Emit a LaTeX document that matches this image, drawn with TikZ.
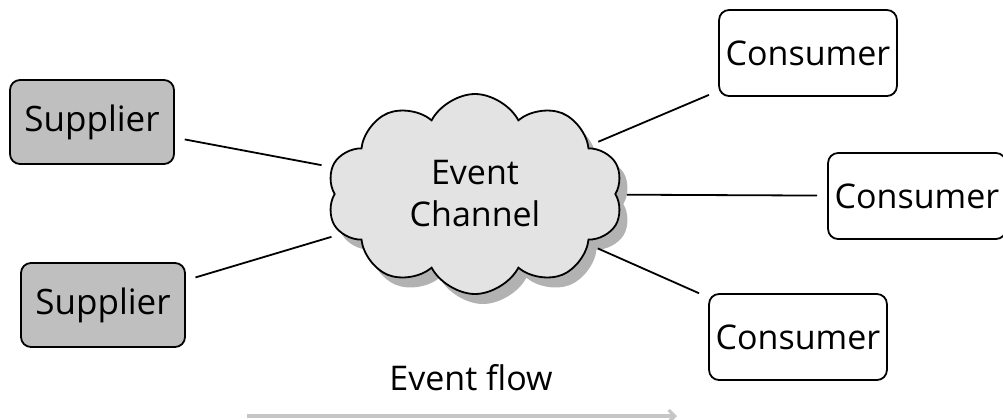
\documentclass[tikz,border=0pt]{standalone}
\usepackage{fontspec}
\setmainfont{Open Sans}
\usetikzlibrary{shapes.symbols,shadows,arrows.meta}
\begin{document}
\begin{tikzpicture}[x=0.5pt,y=-0.5pt,
  supplierbox/.style={draw, line width=0.9pt, rounded corners=5pt, fill=gray!50,
    minimum width=82pt, minimum height=42pt, font=\fontsize{17.5}{20}\selectfont},
  consumerbox/.style={draw, line width=0.9pt, rounded corners=5pt, fill=white,
    minimum width=86pt, minimum height=43pt, font=\fontsize{17}{20}\selectfont},
  link/.style={line width=0.9pt, shorten <=5pt, shorten >=5pt}]
\useasboundingbox (0,0) rectangle (1003,419);
\node[supplierbox] (s1) at (92,122) {Supplier};
\node[supplierbox] (s2) at (103,305) {Supplier};
\node[draw, line width=0.9pt, cloud, cloud puffs=10, cloud puff arc=125, aspect=1.5,
  fill=gray!22, minimum width=148pt, minimum height=100pt, align=center,
  font=\fontsize{17}{21}\selectfont,
  drop shadow={shadow xshift=4pt, shadow yshift=-5pt, fill=gray!60, opacity=1}]
  (ch) at (475,194) {Event\\Channel};
\node[consumerbox] (c1) at (808,53) {Consumer};
\node[consumerbox] (c2) at (917,196) {Consumer};
\node[consumerbox] (c3) at (798,337) {Consumer};
\draw[link] (s1) -- (ch);
\draw[link] (s2) -- (ch);
\draw[link] (ch) -- (c1);
\draw[link] (ch) -- (c2);
\draw[link] (ch) -- (c3);
\node[font=\fontsize{17}{20}\selectfont] (flow) at (471,378) {Event flow};
\coordinate (fs) at (247,416);
\coordinate (fe) at (677,416);
\draw[gray!45, line width=1.6pt, -{Straight Barb[length=3pt]}] (fs) -- (fe);
\end{tikzpicture}
\end{document}
